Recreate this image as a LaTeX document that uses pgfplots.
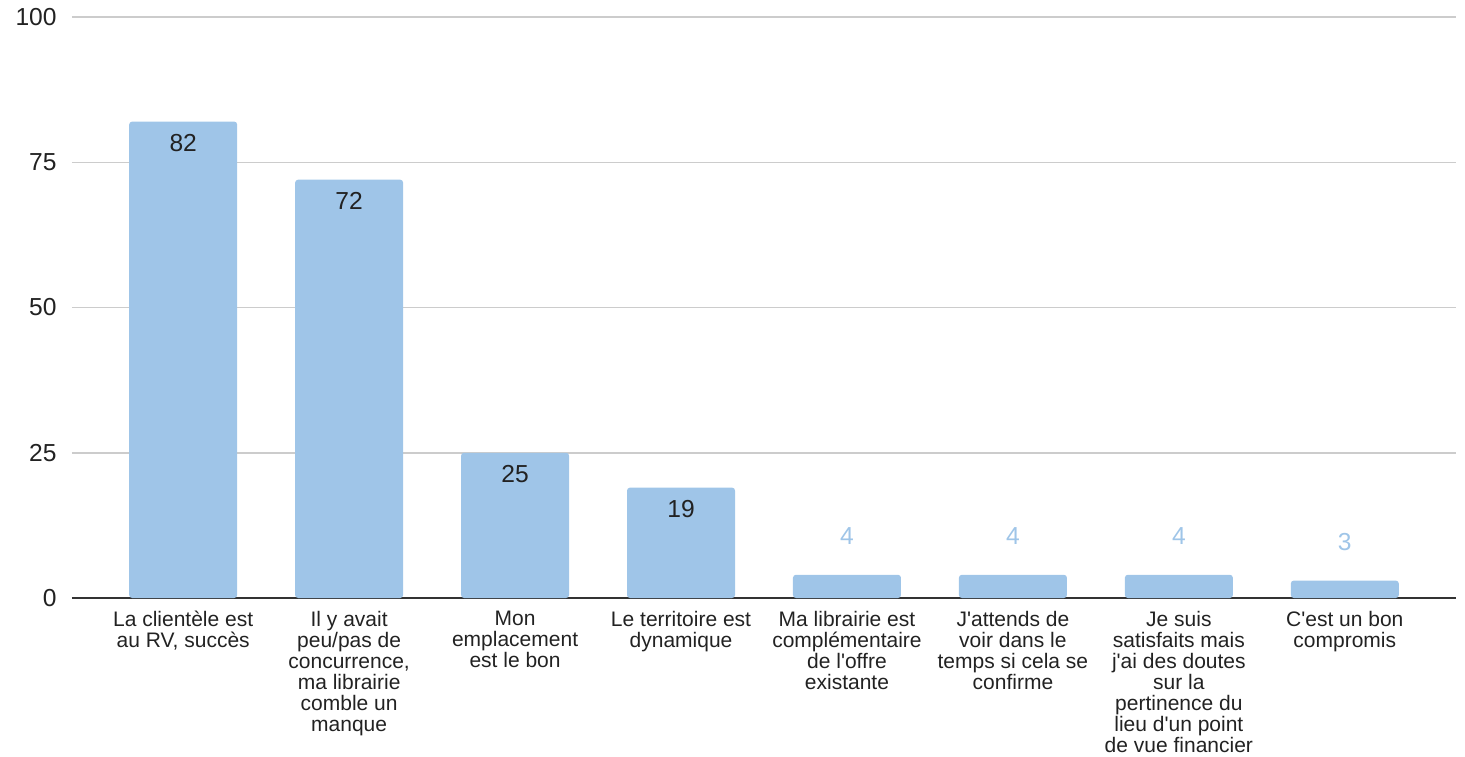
\documentclass[border=0pt]{standalone}
\usepackage{fontspec}
\setmainfont{Liberation Sans}
\usepackage{pgfplots}
\pgfplotsset{compat=1.18}
\definecolor{barblue}{HTML}{9FC5E8}
\definecolor{txt}{HTML}{222222}
\definecolor{gridgray}{HTML}{CCCCCC}
\begin{document}
\begin{tikzpicture}
  \begin{axis}[
      at={(0,0)}, anchor=south west,
      width=692pt, height=290.5pt, scale only axis,
      ybar, bar width=54pt,
      xmin=-0.67, xmax=7.67,
      ymin=0, ymax=100,
      ytick={0,25,50,75,100},
      xtick={0,...,7},
      xticklabels={
        {La clientèle est\\au RV, succès},
        {Il y avait\\peu/pas de\\concurrence,\\ma librairie\\comble un\\manque},
        {Mon\\emplacement\\est le bon},
        {Le territoire est\\dynamique},
        {Ma librairie est\\complémentaire\\de l\textquotesingle offre\\existante},
        {J\textquotesingle attends de\\voir dans le\\temps si cela se\\confirme},
        {Je suis\\satisfaits mais\\j\textquotesingle ai des doutes\\sur la\\pertinence du\\lieu d\textquotesingle un point\\de vue financier},
        {C\textquotesingle est un bon\\compromis}},
      axis x line=bottom, axis y line=left,
      y axis line style={draw=none},
      x axis line style={-, line width=1pt, draw=black!80},
      major tick length=0pt,
      ymajorgrids, grid style={gridgray, line width=0.75pt},
      /pgf/number format/assume math mode=true,
      yticklabel style={anchor=east, inner sep=0pt, xshift=-7.5pt, text=txt,
        font=\fontsize{12.3}{14}\selectfont},
      xticklabel style={anchor=north, inner sep=0pt, yshift=-6.5pt, align=center,
        text=txt, font=\fontsize{10.5}{10.5}\selectfont},
      nodes near coords,
      every node near coord/.append style={anchor=center,
        font=\fontsize{12.3}{14}\selectfont},
    ]
    \addplot[fill=barblue, draw=none, bar shift=0pt, rounded corners=1.5pt,
      every node near coord/.append style={text=txt, yshift=-10.5pt}]
      coordinates {(0,82) (1,72) (2,25) (3,19)};
    \addplot[fill=barblue, draw=none, bar shift=0pt, rounded corners=1.5pt,
      every node near coord/.append style={text=barblue, yshift=19.5pt}]
      coordinates {(4,4) (5,4) (6,4) (7,3)};
  \end{axis}
  \pgfresetboundingbox
  \path (-36pt,-79pt) rectangle (696.5pt,299pt);
\end{tikzpicture}
\end{document}
